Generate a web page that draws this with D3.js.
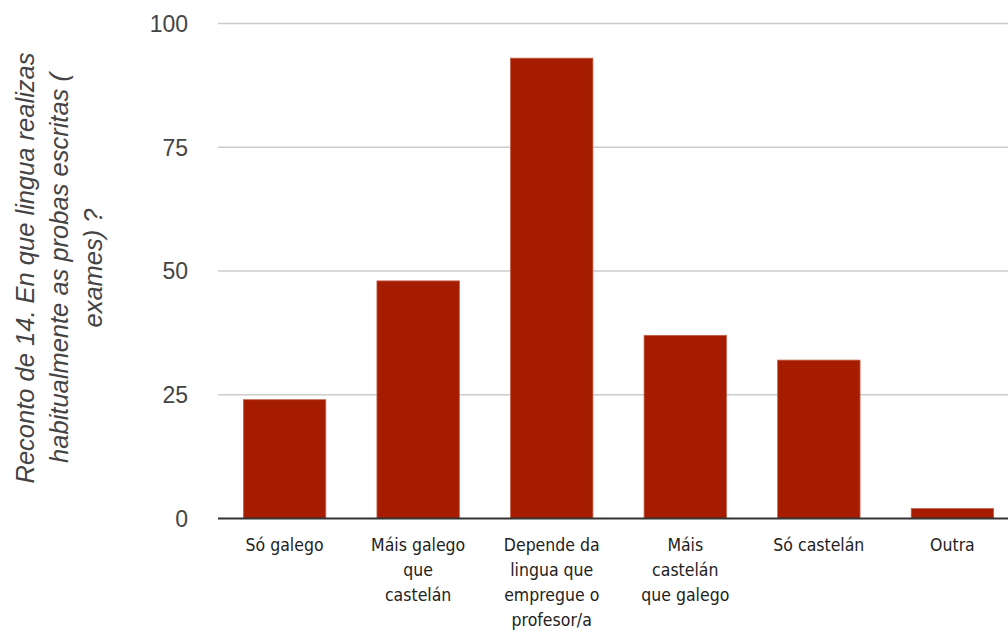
<!DOCTYPE html>
<html>
<head>
<meta charset="utf-8">
<script src="https://cdn.jsdelivr.net/npm/d3@7"></script>
<style>
  body { margin: 0; background: #fff; }
  svg { display: block; }
</style>
</head>
<body>
<div id="chart"></div>
<script>
  var categories = ['Só galego', 'Máis galego que castelán', 'Depende da lingua que empregue o profesor/a', 'Máis castelán que galego', 'Só castelán', 'Outra']
  var labelLines = [
    ['Só galego'],
    ['Máis galego', 'que', 'castelán'],
    ['Depende da', 'lingua que', 'empregue o', 'profesor/a'],
    ['Máis', 'castelán', 'que galego'],
    ['Só castelán'],
    ['Outra']
  ]
  var values = [24, 48, 93, 37, 32, 2]
  var yTicks = [0, 25, 50, 75, 100]
  var titleLines = ['Reconto de 14. En que lingua realizas', 'habitualmente as probas escritas (', 'exames) ?']

  var W = 1008, H = 633
  var svg = d3.select('#chart').append('svg')
    .attr('width', W).attr('height', H)

  // plot area runs past the right edge, like the original crop
  var x = d3.scaleBand().domain(categories).range([218, 1019]).paddingInner(0.383).paddingOuter(0.19)
  var y = d3.scaleLinear().domain([0, 100]).range([518.5, 23.5])

  // gridlines
  svg.append('g')
    .selectAll('line')
    .data(yTicks.filter(d => d > 0))
    .enter().append('line')
    .attr('x1', 218).attr('x2', W)
    .attr('y1', d => y(d)).attr('y2', d => y(d))
    .attr('stroke', '#cccccc').attr('stroke-width', 1.5)

  // y tick labels
  svg.append('g')
    .selectAll('text')
    .data(yTicks)
    .enter().append('text')
    .attr('x', 188).attr('y', d => y(d))
    .attr('dy', '0.36em')
    .attr('text-anchor', 'end')
    .attr('font-family', 'Liberation Sans, Arial, sans-serif')
    .attr('font-size', 23)
    .attr('fill', '#444')
    .text(d => d)

  // bars
  svg.append('g')
    .selectAll('rect')
    .data(values)
    .enter().append('rect')
    .attr('x', (d, i) => x(categories[i]))
    .attr('width', x.bandwidth())
    .attr('y', d => y(d))
    .attr('height', d => y(0) - y(d))
    .attr('fill', '#a61c00')
    .attr('stroke', '#c4604d')
    .attr('stroke-width', 0.8)

  // baseline
  svg.append('line')
    .attr('x1', 218).attr('x2', W)
    .attr('y1', y(0)).attr('y2', y(0))
    .attr('stroke', '#333').attr('stroke-width', 2)

  // category labels
  var lab = svg.append('g')
    .selectAll('text')
    .data(labelLines)
    .enter().append('text')
    .attr('text-anchor', 'middle')
    .attr('font-family', 'DejaVu Sans Condensed, DejaVu Sans, sans-serif')
    .attr('font-size', 17.5)
    .attr('fill', '#222')
    .attr('transform', (d, i) => `translate(${x(categories[i]) + x.bandwidth() / 2},551)`)
  lab.selectAll('tspan')
    .data(d => d)
    .enter().append('tspan')
    .attr('x', 0)
    .attr('y', (d, i) => i * 25)
    .text(d => d)

  // axis title
  var title = svg.append('text')
    .attr('transform', 'translate(34,268) rotate(-90)')
    .attr('text-anchor', 'middle')
    .attr('font-family', 'Liberation Sans, Arial, sans-serif')
    .attr('font-style', 'italic')
    .attr('font-size', 25.5)
    .attr('fill', '#444')
  title.selectAll('tspan')
    .data(titleLines)
    .enter().append('tspan')
    .attr('x', 0)
    .attr('y', (d, i) => i * 34)
    .text(d => d)
</script>
</body>
</html>
